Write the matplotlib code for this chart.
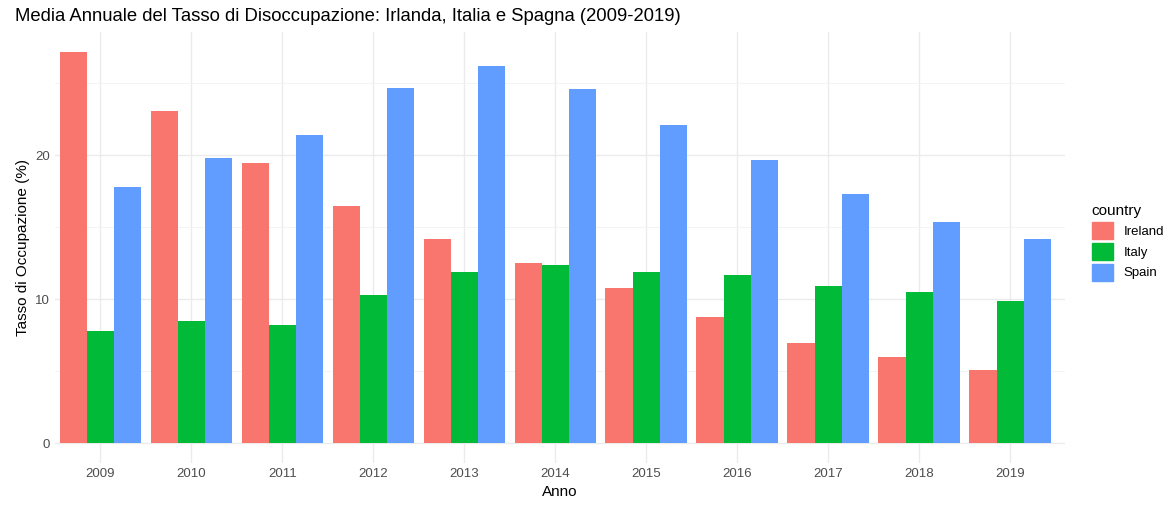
import numpy as np
import matplotlib.pyplot as plt
from matplotlib.patches import Patch
from matplotlib.ticker import NullFormatter

years = [2009, 2010, 2011, 2012, 2013, 2014, 2015, 2016, 2017, 2018, 2019]
ireland = [27.2, 23.1, 19.5, 16.5, 14.2, 12.5, 10.8, 8.8, 7.0, 6.0, 5.1]
italy = [7.8, 8.5, 8.2, 10.3, 11.9, 12.4, 11.9, 11.7, 10.9, 10.5, 9.9]
spain = [17.8, 19.8, 21.4, 24.7, 26.2, 24.6, 22.1, 19.7, 17.3, 15.4, 14.2]
countries = ["Ireland", "Italy", "Spain"]
colors = ["#F8766D", "#00BA38", "#619CFF"]

plt.rcParams['font.family'] = ['Liberation Sans', 'DejaVu Sans']

fig = plt.figure(figsize=(11.68, 5.08), dpi=100)
ax = fig.add_axes([55/1168, 45/508, (1065-55)/1168, (463-32)/508])

x = np.arange(len(years))
w = 0.3
for i, (vals, c) in enumerate(zip([ireland, italy, spain], colors)):
    ax.bar(x + (i - 1) * w, vals, width=w, color=c, zorder=2)

ymax = max(max(ireland), max(italy), max(spain))
ax.set_ylim(-0.05 * ymax, ymax * 1.05)
ax.set_xlim(-0.5, len(years) - 0.4)
ax.set_yticks([0, 10, 20])
ax.set_yticks([5, 15, 25], minor=True)
ax.yaxis.set_minor_formatter(NullFormatter())
ax.set_xticks(x)
ax.set_xticklabels(years)
ax.grid(True, which='major', color='#EBEBEB', linewidth=1.0, zorder=0)
ax.grid(True, which='minor', axis='y', color='#F3F3F3', linewidth=0.6, zorder=0)
for s in ax.spines.values():
    s.set_visible(False)
ax.tick_params(which='both', length=0, labelsize=9.5, colors='#4D4D4D')
ax.set_xlabel("Anno", fontsize=11)
ax.set_ylabel("Tasso di Occupazione (%)", fontsize=11)
ax.set_title("Media Annuale del Tasso di Disoccupazione: Irlanda, Italia e Spagna (2009-2019)",
             fontsize=13.3, loc='left', x=-0.04, pad=8)

handles = [Patch(color=c, label=n) for n, c in zip(countries, colors)]
leg = fig.legend(handles=handles, title="country", loc='upper left',
                 bbox_to_anchor=(1080/1168, 1 - 192/508), frameon=False,
                 fontsize=9.5, title_fontsize=11, handlelength=1.6, handleheight=1.6,
                 labelspacing=0.3, alignment='left')

fig.savefig("out.png", dpi=100)
